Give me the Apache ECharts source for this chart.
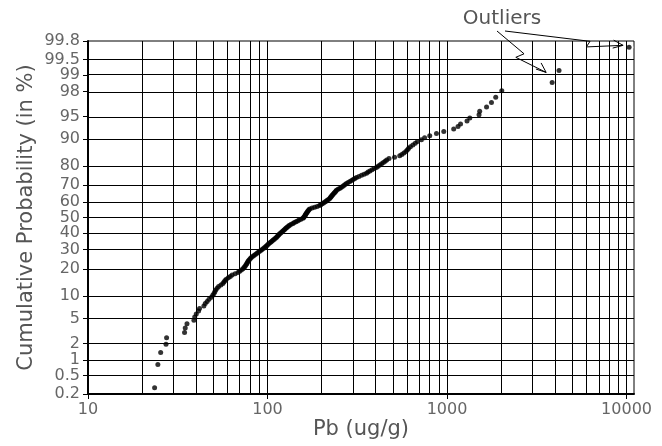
<!DOCTYPE html>
<html><head><meta charset="utf-8">
<script src="https://cdn.jsdelivr.net/npm/echarts@6/dist/echarts.min.js"></script>
<style>html,body{margin:0;padding:0;background:#fff}#c{width:662px;height:446px}</style>
</head><body><div id="c"></div>
<script>
// Sorted Pb sample values (ug/g)
const pbValues = [
  23.5, 24.5, 25.4, 27.2, 27.4, 34.5, 34.8, 35.6, 38.9, 39.3,
  40.1, 41.3, 41.8, 44.2, 45.0, 46.1, 47.2, 48.7, 49.5, 50.3,
  50.9, 51.4, 52.4, 53.4, 55.0, 56.4, 57.2, 58.0, 58.9, 60.5,
  62.0, 63.5, 66.0, 68.5, 69.9, 71.5, 73.0, 74.0, 74.8, 75.6,
  76.4, 77.0, 77.6, 78.3, 79.2, 80.2, 81.2, 82.5, 84.0, 85.5,
  87.0, 88.4, 90.0, 91.6, 93.2, 94.8, 96.3, 97.8, 99.0, 100.2,
  101.5, 103.0, 104.5, 106.0, 107.5, 109.0, 110.5, 112.0, 113.2, 114.5,
  115.6, 116.8, 118.5, 120.0, 121.5, 123.0, 124.5, 126.0, 127.5, 129.0,
  131.0, 132.7, 135.5, 138.6, 141.0, 144.0, 147.0, 150.0, 153.5, 157.5,
  159.0, 160.0, 161.5, 162.5, 163.5, 164.5, 166.0, 167.0, 168.5, 170.0,
  171.8, 177.0, 183.0, 189.0, 195.0, 198.0, 201.5, 205.0, 208.5, 212.0,
  215.0, 218.5, 222.0, 224.0, 226.0, 228.0, 230.0, 232.5, 235.0, 237.5,
  240.0, 242.0, 247.0, 252.0, 257.0, 261.5, 266.0, 270.5, 275.0, 281.0,
  287.5, 294.0, 300.0, 306.5, 313.0, 323.0, 334.0, 345.0, 356.0, 363.0,
  372.0, 382.0, 393.0, 404.0, 413.0, 422.0, 432.0, 442.0, 452.0, 461.0,
  475.0, 510.0, 545.0, 560.0, 575.0, 590.0, 600.0, 610.0, 625.0, 645.0,
  665.0, 685.0, 720.0, 750.0, 801.0, 873.0, 959.0, 1089, 1151, 1189,
  1292, 1339, 1507, 1520, 1660, 1768, 1867, 2018, 3850, 4206,
  10330
];
// Probability axis tick labels (percent)
const probTickLabels = ['0.2','0.5','1','2','5','10','20','30','40','50','60','70','80','90','95','98','99','99.5','99.8'];
// Pb axis labelled ticks and grid lines
const xTickLabels = [10, 100, 1000, 10000];
const xGridValues = [20,30,40,50,60,70,80,90,100,200,300,400,500,600,700,800,900,1000,2000,3000,4000,5000,6000,7000,8000,9000,10000];
const xAxisMin = 10, xAxisMax = 11000;
// ranks (1-based) of the annotated outliers
const outlierRankA = 179, outlierRankB = 181;

// inverse standard normal CDF (probability-paper scale)
function normInv(p){
  const a=[-3.969683028665376e+01,2.209460984245205e+02,-2.759285104469687e+02,1.383577518672690e+02,-3.066479806614716e+01,2.506628277459239e+00];
  const b=[-5.447609879822406e+01,1.615858368580409e+02,-1.556989798598866e+02,6.680131188771972e+01,-1.328068155288572e+01];
  const c=[-7.784894002430293e-03,-3.223964580411365e-01,-2.400758277161838e+00,-2.549732539343734e+00,4.374664141464968e+00,2.938163982698783e+00];
  const d=[7.784695709041462e-03,3.224671290700398e-01,2.445134137142996e+00,3.754408661907416e+00];
  const pl=0.02425, ph=1-pl; let q,r;
  if(p<pl){q=Math.sqrt(-2*Math.log(p));return (((((c[0]*q+c[1])*q+c[2])*q+c[3])*q+c[4])*q+c[5])/((((d[0]*q+d[1])*q+d[2])*q+d[3])*q+1);}
  if(p<=ph){q=p-0.5;r=q*q;return (((((a[0]*r+a[1])*r+a[2])*r+a[3])*r+a[4])*r+a[5])*q/(((((b[0]*r+b[1])*r+b[2])*r+b[3])*r+b[4])*r+1);}
  q=Math.sqrt(-2*Math.log(1-p));return -(((((c[0]*q+c[1])*q+c[2])*q+c[3])*q+c[4])*q+c[5])/((((d[0]*q+d[1])*q+d[2])*q+d[3])*q+1);
}

const n = pbValues.length;
const points = pbValues.map((v,i)=>[v, normInv((i+0.5)/n)]);
const yTickZ = probTickLabels.map(s=>normInv(parseFloat(s)/100));
const zMin = yTickZ[0], zMax = yTickZ[yTickZ.length-1];

const FONT = 'DejaVu Sans';
const TXT = '#666';

const chart = echarts.init(document.getElementById('c'), null, {renderer:'canvas'});
chart.setOption({
  animation:false,
  backgroundColor:'#fff',
  grid:{left:88, right:28, top:41, bottom:52, show:true, borderColor:'#000', borderWidth:1, backgroundColor:'transparent'},
  xAxis:{
    type:'log', logBase:10, min:xAxisMin, max:xAxisMax,
    axisLine:{show:true, onZero:false, lineStyle:{color:'#000', width:2}},
    axisTick:{show:true, customValues:xTickLabels, length:5, lineStyle:{color:'#000', width:1}},
    axisLabel:{customValues:xTickLabels, fontSize:16, color:TXT, fontFamily:FONT, margin:8,
      formatter:v=>String(Math.round(v))},
    splitLine:{show:false}, minorTick:{show:false}, minorSplitLine:{show:false},
    name:'Pb (ug/g)', nameLocation:'middle', nameGap:25, nameMoveOverlap:false,
    nameTextStyle:{fontSize:21, color:'#555', fontFamily:FONT}
  },
  yAxis:{
    type:'value', min:zMin, max:zMax,
    axisLine:{show:true, onZero:false, lineStyle:{color:'#000', width:2}},
    axisTick:{show:true, customValues:yTickZ, length:5, lineStyle:{color:'#000', width:1}},
    axisLabel:{customValues:yTickZ, fontSize:16, color:TXT, fontFamily:FONT, margin:8,
      formatter:v=>{const i=yTickZ.findIndex(z=>Math.abs(z-v)<1e-6);return i>=0?probTickLabels[i]:'';}},
    splitLine:{show:false},
    name:'Cumulative Probability (in %)', nameLocation:'middle', nameGap:51, nameRotate:90, nameMoveOverlap:false,
    nameTextStyle:{fontSize:21, color:'#555', fontFamily:FONT}
  },
  series:[
    {type:'scatter', data:[], z:1, silent:true,
     markLine:{silent:true, symbol:['none','none'], label:{show:false}, animation:false,
       lineStyle:{color:'#000', width:1, type:'solid'}, emphasis:{disabled:true},
       data:[...xGridValues.map(v=>({xAxis:v})), ...yTickZ.map(z=>({yAxis:z}))]}},
    {type:'scatter', data:points, symbolSize:8.5, z:2, silent:true,
     itemStyle:{color:'#fff'}, emphasis:{disabled:true}},
    {type:'scatter', data:points, symbolSize:5, z:3, silent:true,
     itemStyle:{color:'#000'}, emphasis:{disabled:true}}
  ]
});

function zigArrow(S, T, frac, jog){
  const dx=T[0]-S[0], dy=T[1]-S[1], L=Math.hypot(dx,dy), ux=dx/L, uy=dy/L, nx=-uy, ny=ux;
  const A=[S[0]+ux*L*frac, S[1]+uy*L*frac];
  const B=[A[0]+nx*jog-ux*jog*0.5, A[1]+ny*jog-uy*jog*0.5];
  const h1=[T[0]-ux*10+nx*4, T[1]-uy*10+ny*4];
  const h2=[T[0]-ux*10-nx*4, T[1]-uy*10-ny*4];
  return [
    {type:'polyline', shape:{points:[S,A,B,T]}, style:{stroke:'#000', lineWidth:1, fill:null}, z:10},
    {type:'polyline', shape:{points:[h1,T,h2]}, style:{stroke:'#000', lineWidth:1, fill:null}, z:10}
  ];
}
const pA = chart.convertToPixel({gridIndex:0}, points[outlierRankA-1]);
const pB = chart.convertToPixel({gridIndex:0}, points[outlierRankB-1]);
chart.setOption({graphic:[
  {type:'text', z:10, style:{text:'Outliers', x:502, y:19, align:'center', verticalAlign:'middle',
    textAlign:'center', textVerticalAlign:'middle', font:'20px "DejaVu Sans"', fill:'#555'}},
  ...zigArrow([497,31],[pA[0]-6,pA[1]-10],0.55,8),
  ...zigArrow([505,31],[pB[0]-6,pB[1]-2],0.72,6)
]});
</script>
</body></html>
